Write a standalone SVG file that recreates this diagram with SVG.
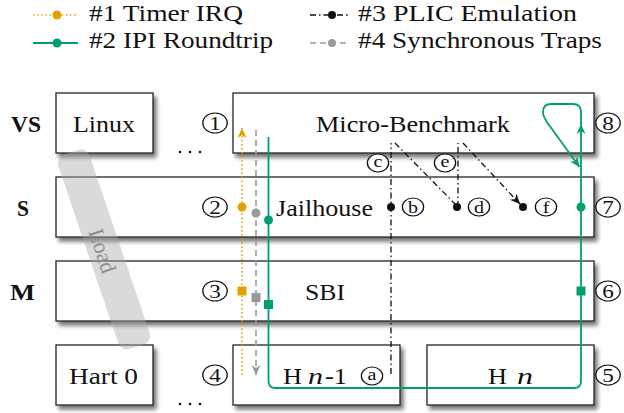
<svg xmlns="http://www.w3.org/2000/svg" width="624" height="413" viewBox="0 0 624 413" font-family="'Liberation Serif', 'Times New Roman', serif">
<defs>
<style>
.t{font-family:'Liberation Serif','Times New Roman',serif;font-size:23px;fill:#111}
.b{font-weight:bold}
.box{fill:#fff;stroke:#222;stroke-width:1.3;filter:url(#sh)}
.cl circle{fill:#fff;stroke:#111;stroke-width:1.1}
.cl text{font-family:'Liberation Serif','Times New Roman',serif;font-size:19px;fill:#111;text-anchor:middle}
.sl circle{fill:#fff;stroke:#111;stroke-width:1.1}
.sl text{font-family:'Liberation Serif','Times New Roman',serif;font-size:17px;fill:#111;text-anchor:middle}
.or{stroke:#E69F00;stroke-width:1.6;fill:none;stroke-dasharray:1.5 2.6}
.gr{stroke:#009E73;stroke-width:1.8;fill:none}
.gy{stroke:#999;stroke-width:1.6;fill:none;stroke-dasharray:6 4}
.bk{stroke:#111;stroke-width:1.3;fill:none;stroke-dasharray:6 3 1.5 3}
</style>
<filter id="sh" x="-10%" y="-20%" width="130%" height="160%">
<feGaussianBlur in="SourceAlpha" stdDeviation="2.2"/>
<feOffset dx="3" dy="3.5"/>
<feComponentTransfer><feFuncA type="linear" slope="0.55"/></feComponentTransfer>
<feMerge><feMergeNode/><feMergeNode in="SourceGraphic"/></feMerge>
</filter>
<marker id="aO" viewBox="-11 -6 12 12" refX="0" refY="0" markerWidth="12" markerHeight="12" markerUnits="userSpaceOnUse" orient="auto"><path d="M0,0 L-10,-4.5 L-7,0 L-10,4.5 Z" fill="#E69F00"/></marker>
<marker id="aG" viewBox="-11 -6 12 12" refX="0" refY="0" markerWidth="12" markerHeight="12" markerUnits="userSpaceOnUse" orient="auto"><path d="M0,0 L-10,-4.5 L-7,0 L-10,4.5 Z" fill="#009E73"/></marker>
<marker id="aY" viewBox="-11 -6 12 12" refX="0" refY="0" markerWidth="12" markerHeight="12" markerUnits="userSpaceOnUse" orient="auto"><path d="M0,0 L-10,-4.5 L-7,0 L-10,4.5 Z" fill="#999"/></marker>
<marker id="aK" viewBox="-11 -6 12 12" refX="0" refY="0" markerWidth="12" markerHeight="12" markerUnits="userSpaceOnUse" orient="auto"><path d="M0,0 L-10,-4.5 L-7,0 L-10,4.5 Z" fill="#111"/></marker>
</defs>

<g id="legend">
<line x1="33" y1="15" x2="78" y2="15" class="or"/><circle cx="57" cy="15" r="4.5" fill="#E69F00"/>
<text class="t" x="89" y="20.5" textLength="154" lengthAdjust="spacingAndGlyphs">#1 Timer IRQ</text>
<line x1="33" y1="43" x2="78" y2="43" class="gr"/><circle cx="57" cy="43" r="4.5" fill="#009E73"/>
<text class="t" x="89" y="47.5" textLength="184" lengthAdjust="spacingAndGlyphs">#2 IPI Roundtrip</text>
<line x1="310" y1="15" x2="350" y2="15" class="bk"/><circle cx="332" cy="15" r="4" fill="#111"/>
<text class="t" x="358" y="20.5" textLength="219" lengthAdjust="spacingAndGlyphs">#3 PLIC Emulation</text>
<line x1="310" y1="43" x2="350" y2="43" class="gy"/><circle cx="332" cy="43" r="4" fill="#999"/>
<text class="t" x="358" y="47.5" textLength="244" lengthAdjust="spacingAndGlyphs">#4 Synchronous Traps</text>
</g>

<g id="levels">
<text class="t b" x="11" y="131.5" textLength="30" lengthAdjust="spacingAndGlyphs">VS</text>
<text class="t b" x="17" y="215.5" textLength="12" lengthAdjust="spacingAndGlyphs">S</text>
<text class="t b" x="10" y="299.5" textLength="25" lengthAdjust="spacingAndGlyphs">M</text>
</g>

<g id="linux"><rect class="box" x="56" y="93" width="97" height="60"/>
<text class="t" x="73" y="131.5" textLength="62" lengthAdjust="spacingAndGlyphs">Linux</text></g>
<g id="micro-benchmark"><rect class="box" x="233" y="93" width="361" height="60"/>
<text class="t" x="316" y="131.5" textLength="194" lengthAdjust="spacingAndGlyphs">Micro-Benchmark</text></g>
<g id="jailhouse"><rect class="box" x="56" y="177" width="538" height="60"/>
<text class="t" x="276" y="215.5" textLength="97" lengthAdjust="spacingAndGlyphs">Jailhouse</text></g>
<g id="sbi"><rect class="box" x="56" y="261" width="538" height="60"/>
<text class="t" x="305" y="299.5" textLength="40" lengthAdjust="spacingAndGlyphs">SBI</text></g>
<g id="hart0"><rect class="box" x="56" y="345" width="97" height="60"/>
<text class="t" x="69" y="384" textLength="69" lengthAdjust="spacingAndGlyphs">Hart 0</text></g>
<g id="hn1"><rect class="box" x="233" y="345" width="167" height="60"/>
<text class="t" x="283" y="384" textLength="19" lengthAdjust="spacingAndGlyphs">H</text>
<text class="t" x="308" y="384" textLength="15" lengthAdjust="spacingAndGlyphs" font-style="italic">n</text>
<text class="t" x="325" y="384" textLength="22" lengthAdjust="spacingAndGlyphs">-1</text></g>
<g id="hn"><rect class="box" x="427" y="345" width="167" height="60"/>
<text class="t" x="488" y="384" textLength="19" lengthAdjust="spacingAndGlyphs">H</text>
<text class="t" x="517" y="384" textLength="16" lengthAdjust="spacingAndGlyphs" font-style="italic">n</text></g>

<g id="dots" fill="#111">
<circle cx="180" cy="152" r="1.3"/><circle cx="190" cy="152" r="1.3"/><circle cx="200" cy="152" r="1.3"/>
<circle cx="180" cy="404" r="1.3"/><circle cx="190" cy="404" r="1.3"/><circle cx="200" cy="404" r="1.3"/>
</g>

<g id="load">
<rect x="-16.5" y="-102.5" width="33" height="205" rx="9" fill="#a8a8a8" fill-opacity="0.42" transform="translate(104,249.5) rotate(-18.7)"/>
<text transform="translate(102,251) rotate(71.3)" x="0" y="7" text-anchor="middle" font-family="'Liberation Serif', 'Times New Roman', serif" font-size="22" fill="#8c8c8c">Load</text>
</g>

<g id="connectors">
<path class="or" d="M242,375 L242,128" marker-end="url(#aO)"/>
<path class="gy" d="M256,130 L256,375" marker-end="url(#aY)"/>
<path class="gr" d="M268.5,137 L268.5,381 Q268.5,388 275.5,388 L574,388 Q581,388 581,381 L581,124" marker-end="url(#aG)"/>
<path class="gr" d="M581,124 L581,112 C581,106 578,104 573,104 L551,104 C546,104 543,107 543,112 C543,117 546,121 549,125 L579.5,167" marker-end="url(#aG)"/>
<path class="bk" d="M391,374 L391,143"/>
<path class="bk" d="M395,143 L456,205"/>
<path class="bk" d="M458,207 L458,143"/>
<path class="bk" d="M463,143 L520,204" marker-end="url(#aK)"/>
<circle cx="242" cy="207" r="4.5" fill="#E69F00"/>
<circle cx="256" cy="213" r="4.5" fill="#999"/>
<circle cx="268.5" cy="220" r="4.5" fill="#009E73"/>
<circle cx="581" cy="207" r="4.5" fill="#009E73"/>
<rect x="237.5" y="286.5" width="9" height="9" fill="#E69F00"/>
<rect x="251.5" y="293" width="9" height="9" fill="#999"/>
<rect x="264" y="300" width="9" height="9" fill="#009E73"/>
<rect x="576.5" y="286.5" width="9" height="9" fill="#009E73"/>
<circle cx="391" cy="207" r="4" fill="#111"/>
<circle cx="457" cy="207" r="4" fill="#111"/>
<circle cx="523" cy="207" r="4" fill="#111"/>
</g>

<g id="num-labels">
<g class="cl" transform="translate(215,123) scale(1.22,1)"><circle r="10"/><text y="6.5">1</text></g>
<g class="cl" transform="translate(215,207) scale(1.22,1)"><circle r="10"/><text y="6.5">2</text></g>
<g class="cl" transform="translate(215,291) scale(1.22,1)"><circle r="10"/><text y="6.5">3</text></g>
<g class="cl" transform="translate(215,375) scale(1.22,1)"><circle r="10"/><text y="6.5">4</text></g>
<g class="cl" transform="translate(608,375) scale(1.22,1)"><circle r="10"/><text y="6.5">5</text></g>
<g class="cl" transform="translate(608,291) scale(1.22,1)"><circle r="10"/><text y="6.5">6</text></g>
<g class="cl" transform="translate(608,207) scale(1.22,1)"><circle r="10"/><text y="6.5">7</text></g>
<g class="cl" transform="translate(608,123) scale(1.22,1)"><circle r="10"/><text y="6.5">8</text></g>
</g>
<g id="letter-labels">
<g class="sl" transform="translate(372,376) scale(1.18,1)"><circle r="9"/><text y="4">a</text></g>
<g class="sl" transform="translate(413,207) scale(1.18,1)"><circle r="9"/><text y="6">b</text></g>
<g class="sl" transform="translate(378,163) scale(1.18,1)"><circle r="9"/><text y="4">c</text></g>
<g class="sl" transform="translate(479,207) scale(1.18,1)"><circle r="9"/><text y="6">d</text></g>
<g class="sl" transform="translate(445,163) scale(1.18,1)"><circle r="9"/><text y="4">e</text></g>
<g class="sl" transform="translate(546,207) scale(1.18,1)"><circle r="9"/><text y="6">f</text></g>
</g>
</svg>
